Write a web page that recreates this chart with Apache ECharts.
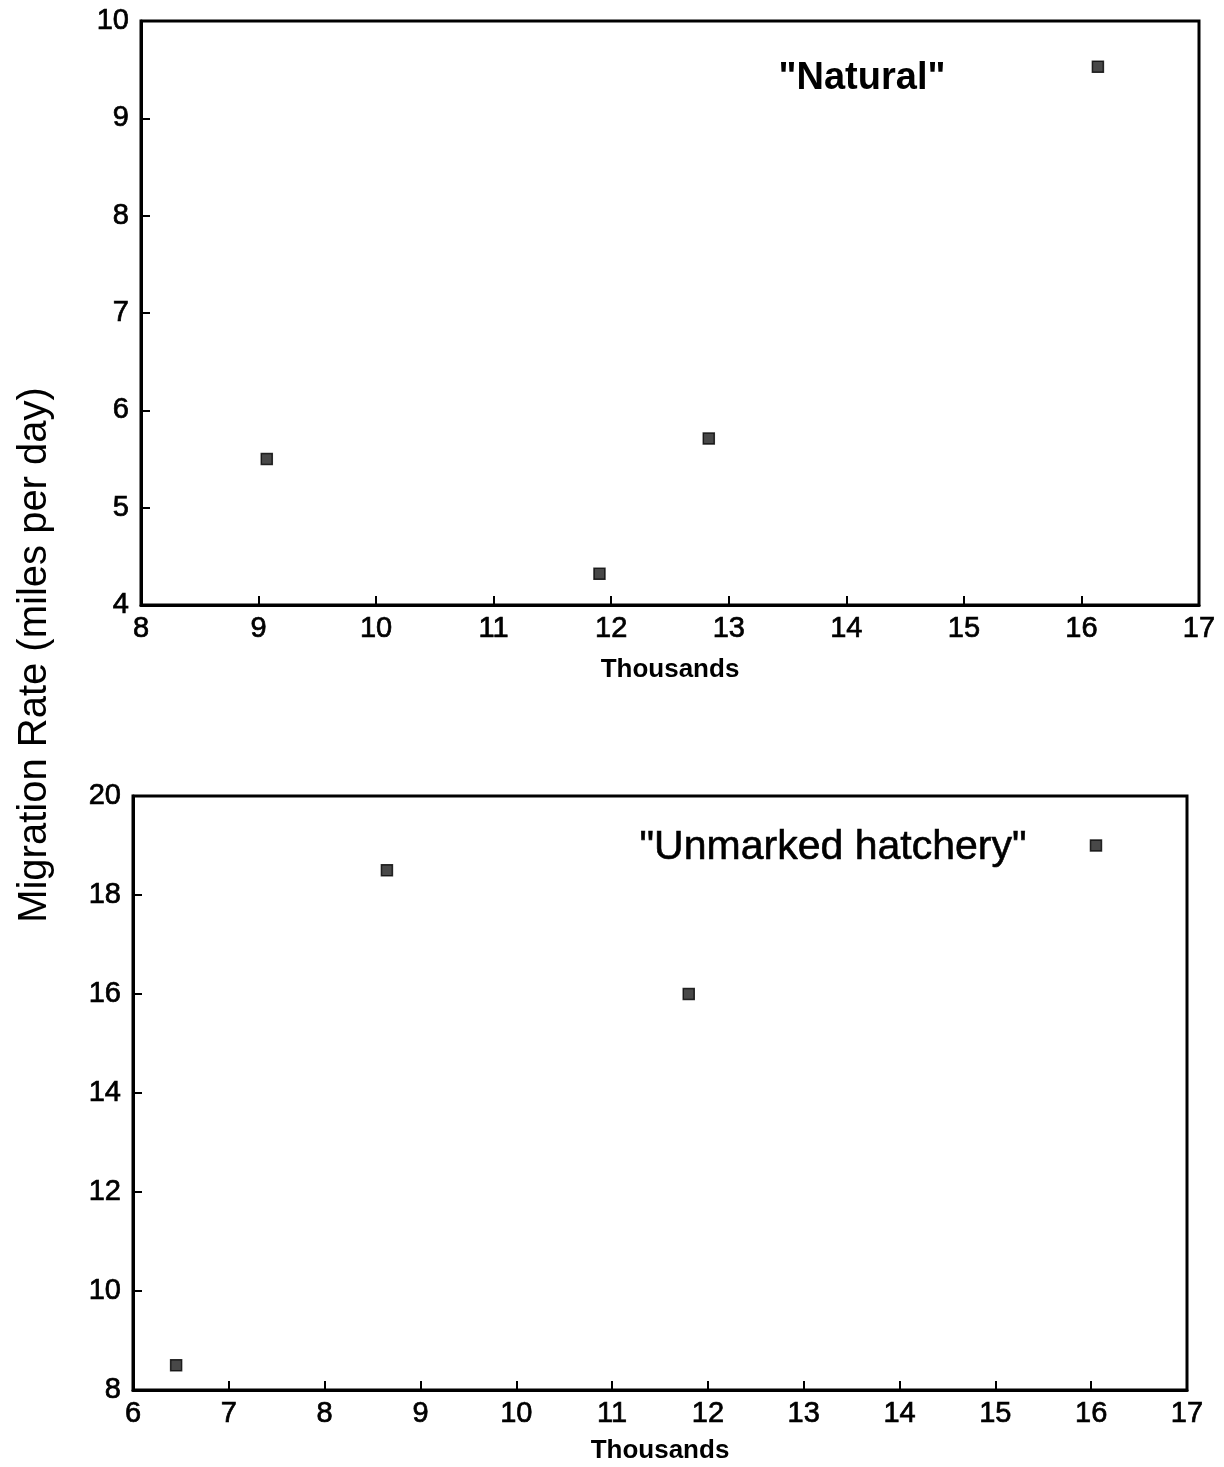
<!DOCTYPE html>
<html>
<head>
<meta charset="utf-8">
<script src="https://cdn.jsdelivr.net/npm/echarts@6/dist/echarts.min.js"></script>
<style>
  html, body { margin: 0; padding: 0; background: #fff; }
  #chart { width: 1224px; height: 1467px; }
</style>
</head>
<body>
<div id="chart"></div>
<script>
// Migration rate vs. fish count (thousands)
const naturalX = [9.07, 11.90, 12.83, 16.14];
const naturalY = [5.50, 4.32, 5.71, 9.53];
const hatcheryX = [6.45, 8.65, 11.80, 16.05];
const hatcheryY = [8.5, 18.5, 16.0, 19.0];

const topXTicks = [8, 17, 1];     // min, max, step
const topYTicks = [4, 10, 1];
const botXTicks = [6, 17, 1];
const botYTicks = [8, 20, 2];

const yTitle = 'Migration Rate (miles per day)';
const xTitle = 'Thousands';
const topLabel = '"Natural"';
const botLabel = '"Unmarked hatchery"';

const FONT = 'Liberation Sans';
const INK = '#000';

function pairs(xs, ys) { return xs.map((x, i) => [x, ys[i]]); }

// slightly heavier than regular weight
const tickText = { fontFamily: FONT, fontSize: 29, color: INK, textBorderColor: INK, textBorderWidth: 0.7 };

function xAxis(gridIndex, t, gap) {
  return {
    gridIndex, type: 'value', min: t[0], max: t[1], interval: t[2],
    name: xTitle, nameLocation: 'middle', nameGap: gap,
    nameTextStyle: { fontFamily: FONT, fontSize: 26, fontWeight: 'bold', color: INK },
    axisLine: { lineStyle: { color: INK, width: 3 } },
    axisTick: { inside: true, length: 9, lineStyle: { color: INK, width: 2 } },
    axisLabel: Object.assign({ margin: 9 }, tickText),
    splitLine: { show: false }
  };
}
function yAxis(gridIndex, t) {
  return {
    gridIndex, type: 'value', min: t[0], max: t[1], interval: t[2],
    axisLine: { lineStyle: { color: INK, width: 3 } },
    axisTick: { inside: true, length: 9, lineStyle: { color: INK, width: 2 } },
    axisLabel: Object.assign({ margin: 12 }, tickText),
    splitLine: { show: false }
  };
}

const marker = { color: '#1a1a1a', borderColor: INK, borderWidth: 1.5 };

const chart = echarts.init(document.getElementById('chart'), null, { renderer: 'canvas' });
chart.setOption({
  backgroundColor: '#fff',
  animation: false,
  grid: [
    { left: 141, top: 21, right: 25, height: 584, show: true, borderColor: INK, borderWidth: 3,
      backgroundColor: 'transparent', outerBoundsMode: 'none', containLabel: false },
    { left: 133, top: 796, right: 37, height: 594, show: true, borderColor: INK, borderWidth: 3,
      backgroundColor: 'transparent', outerBoundsMode: 'none', containLabel: false }
  ],
  xAxis: [xAxis(0, topXTicks, 52), xAxis(1, botXTicks, 48)],
  yAxis: [yAxis(0, topYTicks), yAxis(1, botYTicks)],
  series: [
    {
      type: 'scatter', xAxisIndex: 0, yAxisIndex: 0,
      data: pairs(naturalX, naturalY),
      symbol: 'rect', symbolSize: 11, itemStyle: marker
    },
    {
      type: 'scatter', xAxisIndex: 1, yAxisIndex: 1,
      data: pairs(hatcheryX, hatcheryY),
      symbol: 'rect', symbolSize: 11, itemStyle: marker
    }
  ],
  graphic: [
    {
      type: 'text', x: 35, y: 655, rotation: Math.PI / 2,
      style: { text: yTitle, fontFamily: FONT, fontSize: 40, fill: INK, textAlign: 'center', textVerticalAlign: 'middle' }
    },
    {
      type: 'text', x: 862, y: 79,
      style: { text: topLabel, fontFamily: FONT, fontSize: 38, fontWeight: 'bold', fill: INK, textAlign: 'center', textVerticalAlign: 'middle' }
    },
    {
      type: 'text', x: 833, y: 848,
      style: { text: botLabel, fontFamily: FONT, fontSize: 41, fill: INK, stroke: INK, lineWidth: 0.6, textAlign: 'center', textVerticalAlign: 'middle' }
    }
  ]
});
</script>
</body>
</html>
